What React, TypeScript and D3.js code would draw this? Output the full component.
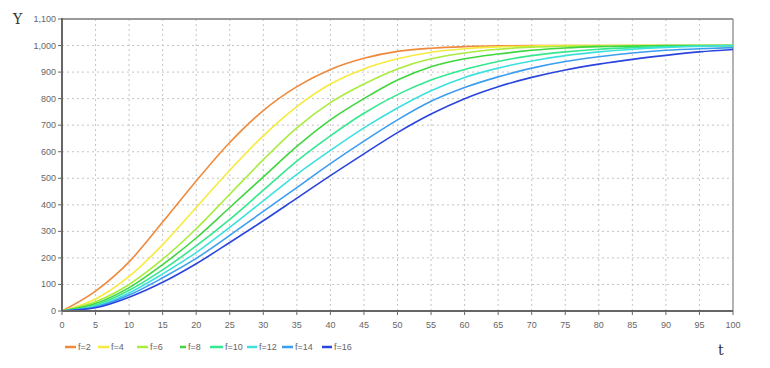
import React from 'react';
import * as d3 from 'd3';

const tValues = [0, 5, 10, 15, 20, 25, 30, 35, 40, 45, 50, 55, 60, 65, 70, 75, 80, 85, 90, 95, 100];

const f2 = [0, 75, 185, 335, 490, 635, 755, 845, 910, 952, 978, 990, 996, 999, 1000, 1000, 1000, 1000, 1000, 1000, 1000];
const f4 = [0, 45, 130, 250, 390, 530, 660, 770, 855, 912, 950, 975, 988, 995, 998, 1000, 1000, 1000, 1000, 1000, 1000];
const f6 = [0, 35, 100, 195, 310, 440, 570, 690, 785, 855, 912, 950, 972, 986, 994, 997, 999, 1000, 1000, 1000, 1000];
const f8 = [0, 28, 88, 175, 275, 390, 505, 620, 720, 800, 870, 920, 950, 968, 982, 991, 996, 998, 1000, 1000, 1000];
const f10 = [0, 22, 78, 155, 245, 345, 455, 565, 660, 745, 815, 870, 910, 940, 962, 976, 986, 992, 996, 999, 1000];
const f12 = [0, 18, 68, 140, 220, 315, 415, 515, 605, 690, 765, 830, 880, 915, 942, 962, 976, 986, 993, 997, 1000];
const f14 = [0, 15, 60, 125, 198, 285, 375, 465, 555, 640, 720, 790, 842, 882, 915, 940, 958, 972, 982, 988, 992];
const f16 = [0, 12, 52, 108, 178, 258, 340, 425, 510, 592, 672, 742, 800, 845, 880, 908, 930, 948, 963, 976, 985];

const seriesNames = ['f=2', 'f=4', 'f=6', 'f=8', 'f=10', 'f=12', 'f=14', 'f=16'];
const seriesValues = [f2, f4, f6, f8, f10, f12, f14, f16];
const seriesColors = ['#ef8a3c', '#f6ea3e', '#a9ec3e', '#3fd63f', '#34e88e', '#3ee0de', '#3c9ef0', '#2a44de'];

const yTicks = [0, 100, 200, 300, 400, 500, 600, 700, 800, 900, 1000, 1100];
const xTicks = d3.range(0, 101, 5);

// legend item positions
const legendX = [65, 98, 137, 180, 210, 247, 282, 322];
const legendLineLen = [11, 11, 11, 6, 13, 10, 11, 10];

const W = 770;
const H = 368;
const plot = { left: 62, right: 733, top: 19, bottom: 311 };

export default function App() {
  const x = d3.scaleLinear().domain([0, 100]).range([plot.left, plot.right]);
  const y = d3.scaleLinear().domain([0, 1100]).range([plot.bottom, plot.top]);

  const line = d3.line<number>()
    .x((_, i) => x(tValues[i]))
    .y(d => y(d))
    .curve(d3.curveMonotoneX);

  const fmt = d3.format(',');
  const tickFont = { fontFamily: '"Liberation Sans", Arial, sans-serif', fontSize: 9, fill: '#666' };

  return (
    <svg width={W} height={H} style={{ position: 'absolute', left: 0, top: 0, background: '#fff' }}>
      {/* grid */}
      {xTicks.filter(t => t > 0 && t < 100).map(t => (
        <line key={'gx' + t} x1={x(t)} x2={x(t)} y1={plot.top} y2={plot.bottom}
          stroke="#c4c4c4" strokeWidth={1} strokeDasharray="2,3" />
      ))}
      {yTicks.filter(v => v > 0 && v < 1100).map(v => (
        <line key={'gy' + v} x1={plot.left} x2={plot.right} y1={y(v)} y2={y(v)}
          stroke="#c4c4c4" strokeWidth={1} strokeDasharray="2,3" />
      ))}

      {/* frame */}
      <line x1={plot.left} x2={plot.right} y1={plot.top} y2={plot.top} stroke="#9a9a9a" strokeWidth={2} />
      <line x1={plot.right} x2={plot.right} y1={plot.top} y2={plot.bottom} stroke="#9a9a9a" strokeWidth={1.5} />

      {/* series */}
      {seriesValues.map((vals, i) => (
        <path key={seriesNames[i]} d={line(vals) || ''} fill="none"
          stroke={seriesColors[i]} strokeWidth={1.6} />
      ))}

      {/* axes */}
      <line x1={plot.left} x2={plot.left} y1={plot.top - 1} y2={plot.bottom} stroke="#666" strokeWidth={2} />
      <line x1={plot.left} x2={plot.right} y1={plot.bottom} y2={plot.bottom} stroke="#666" strokeWidth={2} />

      {yTicks.map(v => (
        <g key={'yt' + v}>
          <line x1={plot.left - 4} x2={plot.left} y1={y(v)} y2={y(v)} stroke="#666" />
          <text x={plot.left - 6} y={y(v) + 3} textAnchor="end" {...tickFont}>{fmt(v)}</text>
        </g>
      ))}
      {xTicks.map(t => (
        <g key={'xt' + t}>
          <line x1={x(t)} x2={x(t)} y1={plot.bottom} y2={plot.bottom + 4} stroke="#666" />
          <text x={x(t)} y={plot.bottom + 17} textAnchor="middle" {...tickFont}>{t}</text>
        </g>
      ))}

      <text x={13} y={24} fontFamily='"DejaVu Serif", serif' fontSize={14} fill="#333">Y</text>
      <text x={718} y={355} fontFamily='"DejaVu Serif", serif' fontSize={14} fill="#333">t</text>

      {/* legend */}
      {seriesNames.map((name, i) => (
        <g key={'lg' + name}>
          <line x1={legendX[i]} x2={legendX[i] + legendLineLen[i]} y1={347} y2={347}
            stroke={seriesColors[i]} strokeWidth={2.5} />
          <text x={legendX[i] + legendLineLen[i] + 2} y={350} {...tickFont}>{name}</text>
        </g>
      ))}
    </svg>
  );
}
